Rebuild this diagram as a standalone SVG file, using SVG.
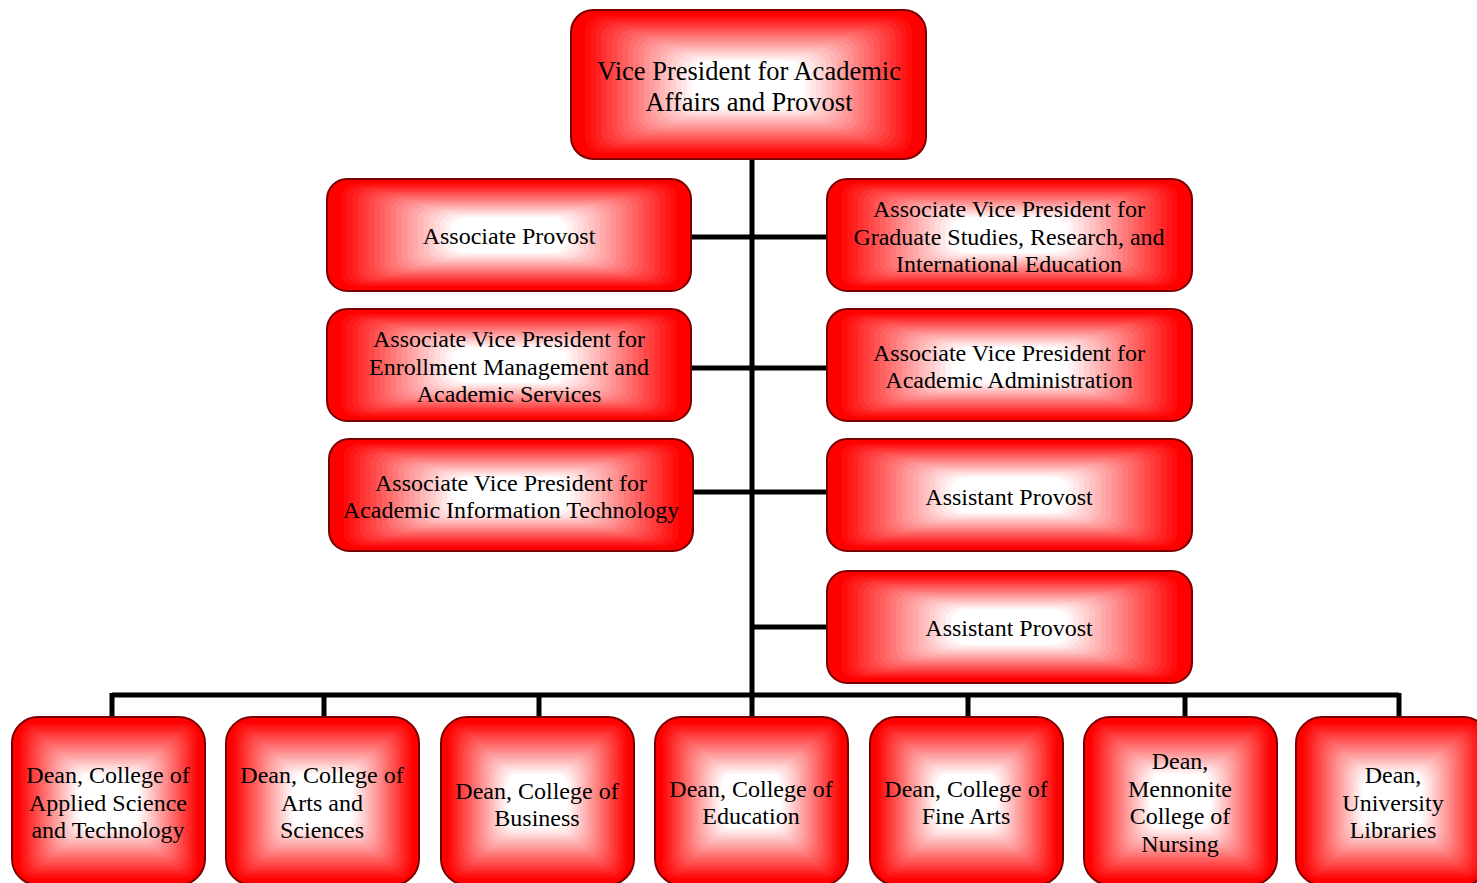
<svg xmlns="http://www.w3.org/2000/svg" width="1477" height="883" viewBox="0 0 1477 883">
<defs>
<symbol id="grad" viewBox="0 0 100 100" preserveAspectRatio="none">
<rect x="4" y="4" width="92" height="92" rx="5" ry="10" fill="#ff0c0c"/>
<rect x="5.5" y="5.5" width="89" height="89" rx="5" ry="10" fill="#ff1818"/>
<rect x="7" y="7" width="86" height="86" rx="5" ry="10" fill="#ff2424"/>
<rect x="8.5" y="8.5" width="83" height="83" rx="5" ry="10" fill="#ff3131"/>
<rect x="10" y="10" width="80" height="80" rx="5" ry="10" fill="#ff3d3d"/>
<rect x="11.5" y="11.5" width="77" height="77" rx="5" ry="10" fill="#ff4949"/>
<rect x="13" y="13" width="74" height="74" rx="5" ry="10" fill="#ff5555"/>
<rect x="14.5" y="14.5" width="71" height="71" rx="5" ry="10" fill="#ff6161"/>
<rect x="16" y="16" width="68" height="68" rx="5" ry="10" fill="#ff6d6d"/>
<rect x="17.5" y="17.5" width="65" height="65" rx="5" ry="10" fill="#ff7979"/>
<rect x="19" y="19" width="62" height="62" rx="5" ry="10" fill="#ff8686"/>
<rect x="20.5" y="20.5" width="59" height="59" rx="5" ry="10" fill="#ff9292"/>
<rect x="22" y="22" width="56" height="56" rx="5" ry="10" fill="#ff9e9e"/>
<rect x="23.5" y="23.5" width="53" height="53" rx="5" ry="10" fill="#ffaaaa"/>
<rect x="25" y="25" width="50" height="50" rx="5" ry="10" fill="#ffb6b6"/>
<rect x="26.5" y="26.5" width="47" height="47" rx="5" ry="10" fill="#ffc2c2"/>
<rect x="28" y="28" width="44" height="44" rx="5" ry="10" fill="#ffcece"/>
<rect x="29.5" y="29.5" width="41" height="41" rx="5" ry="10" fill="#ffdbdb"/>
<rect x="31" y="31" width="38" height="38" rx="5" ry="10" fill="#ffe7e7"/>
<rect x="32.5" y="32.5" width="35" height="35" rx="5" ry="10" fill="#fff3f3"/>
<rect x="34" y="34" width="32" height="32" rx="5" ry="10" fill="#ffffff"/>
</symbol>
</defs>
<style>
.b{fill:#ff0000;stroke:none}
.o{fill:none;stroke:#7a0000;stroke-width:2}
.t{font-family:"Liberation Serif","Times New Roman",serif;font-size:24px;fill:#000;text-anchor:middle;dominant-baseline:central}
.tt{font-size:26.5px}
.c{stroke:#000;stroke-width:5;fill:none}
</style>
<rect width="1477" height="883" fill="#fff"/>
<g id="connectors">
<path class="c" d="M752,159V695"/>
<path class="c" d="M691,237H827M691,368H827M693,492H827M752,627H827"/>
<path class="c" d="M112,695H1399M112,693V717M324,693V717M539,693V717M752,693V717M968,693V717M1185,693V717M1399,693V717"/>
</g>
<g id="n0">
<rect class="b" x="571" y="10" width="355" height="149" rx="22"/>
<use href="#grad" x="571" y="10" width="355" height="149"/>
<rect class="o" x="571" y="10" width="355" height="149" rx="22"/>
<text class="t tt" x="749" y="71">Vice President for Academic</text>
<text class="t tt" x="749" y="102">Affairs and Provost</text>
</g>
<g id="n1">
<rect class="b" x="327" y="179" width="364" height="112" rx="20"/>
<use href="#grad" x="327" y="179" width="364" height="112"/>
<rect class="o" x="327" y="179" width="364" height="112" rx="20"/>
<text class="t" x="509" y="236">Associate Provost</text>
</g>
<g id="n2">
<rect class="b" x="327" y="309" width="364" height="112" rx="20"/>
<use href="#grad" x="327" y="309" width="364" height="112"/>
<rect class="o" x="327" y="309" width="364" height="112" rx="20"/>
<text class="t" x="509" y="339">Associate Vice President for</text>
<text class="t" x="509" y="367">Enrollment Management and</text>
<text class="t" x="509" y="394">Academic Services</text>
</g>
<g id="n3">
<rect class="b" x="329" y="439" width="364" height="112" rx="20"/>
<use href="#grad" x="329" y="439" width="364" height="112"/>
<rect class="o" x="329" y="439" width="364" height="112" rx="20"/>
<text class="t" x="511" y="483">Associate Vice President for</text>
<text class="t" x="511" y="510">Academic Information Technology</text>
</g>
<g id="n4">
<rect class="b" x="827" y="179" width="365" height="112" rx="20"/>
<use href="#grad" x="827" y="179" width="365" height="112"/>
<rect class="o" x="827" y="179" width="365" height="112" rx="20"/>
<text class="t" x="1009" y="209">Associate Vice President for</text>
<text class="t" x="1009" y="237">Graduate Studies, Research, and</text>
<text class="t" x="1009" y="264">International Education</text>
</g>
<g id="n5">
<rect class="b" x="827" y="309" width="365" height="112" rx="20"/>
<use href="#grad" x="827" y="309" width="365" height="112"/>
<rect class="o" x="827" y="309" width="365" height="112" rx="20"/>
<text class="t" x="1009" y="353">Associate Vice President for</text>
<text class="t" x="1009" y="380">Academic Administration</text>
</g>
<g id="n6">
<rect class="b" x="827" y="439" width="365" height="112" rx="20"/>
<use href="#grad" x="827" y="439" width="365" height="112"/>
<rect class="o" x="827" y="439" width="365" height="112" rx="20"/>
<text class="t" x="1009" y="497">Assistant Provost</text>
</g>
<g id="n7">
<rect class="b" x="827" y="571" width="365" height="112" rx="20"/>
<use href="#grad" x="827" y="571" width="365" height="112"/>
<rect class="o" x="827" y="571" width="365" height="112" rx="20"/>
<text class="t" x="1009" y="628">Assistant Provost</text>
</g>
<g id="n8">
<rect class="b" x="12" y="717" width="193" height="168" rx="26"/>
<use href="#grad" x="12" y="717" width="193" height="168"/>
<rect class="o" x="12" y="717" width="193" height="168" rx="26"/>
<text class="t" x="108" y="775">Dean, College of</text>
<text class="t" x="108" y="803">Applied Science</text>
<text class="t" x="108" y="830">and Technology</text>
</g>
<g id="n9">
<rect class="b" x="226" y="717" width="193" height="168" rx="26"/>
<use href="#grad" x="226" y="717" width="193" height="168"/>
<rect class="o" x="226" y="717" width="193" height="168" rx="26"/>
<text class="t" x="322" y="775">Dean, College of</text>
<text class="t" x="322" y="803">Arts and</text>
<text class="t" x="322" y="830">Sciences</text>
</g>
<g id="n10">
<rect class="b" x="441" y="717" width="193" height="168" rx="26"/>
<use href="#grad" x="441" y="717" width="193" height="168"/>
<rect class="o" x="441" y="717" width="193" height="168" rx="26"/>
<text class="t" x="537" y="791">Dean, College of</text>
<text class="t" x="537" y="818">Business</text>
</g>
<g id="n11">
<rect class="b" x="655" y="717" width="193" height="168" rx="26"/>
<use href="#grad" x="655" y="717" width="193" height="168"/>
<rect class="o" x="655" y="717" width="193" height="168" rx="26"/>
<text class="t" x="751" y="789">Dean, College of</text>
<text class="t" x="751" y="816">Education</text>
</g>
<g id="n12">
<rect class="b" x="870" y="717" width="193" height="168" rx="26"/>
<use href="#grad" x="870" y="717" width="193" height="168"/>
<rect class="o" x="870" y="717" width="193" height="168" rx="26"/>
<text class="t" x="966" y="789">Dean, College of</text>
<text class="t" x="966" y="816">Fine Arts</text>
</g>
<g id="n13">
<rect class="b" x="1084" y="717" width="193" height="168" rx="26"/>
<use href="#grad" x="1084" y="717" width="193" height="168"/>
<rect class="o" x="1084" y="717" width="193" height="168" rx="26"/>
<text class="t" x="1180" y="761">Dean,</text>
<text class="t" x="1180" y="789">Mennonite</text>
<text class="t" x="1180" y="816">College of</text>
<text class="t" x="1180" y="844">Nursing</text>
</g>
<g id="n14">
<rect class="b" x="1296" y="717" width="193" height="168" rx="26"/>
<use href="#grad" x="1296" y="717" width="193" height="168"/>
<rect class="o" x="1296" y="717" width="193" height="168" rx="26"/>
<text class="t" x="1393" y="775">Dean,</text>
<text class="t" x="1393" y="803">University</text>
<text class="t" x="1393" y="830">Libraries</text>
</g>
</svg>
